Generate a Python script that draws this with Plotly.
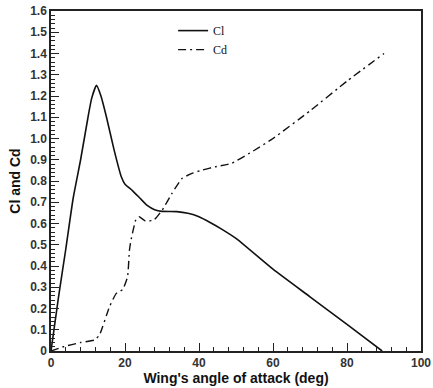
import plotly.graph_objects as go

# Cl (solid)
cl_x = [0, 2, 4, 6, 8, 10, 11, 12.3, 13.5, 15, 17, 19, 20, 22, 24, 26, 28, 30, 34, 37, 40, 43, 46, 50, 60, 70, 80, 89.5]
cl_y = [0, 0.25, 0.48, 0.72, 0.9, 1.1, 1.19, 1.25, 1.2, 1.1, 0.95, 0.82, 0.785, 0.755, 0.72, 0.685, 0.665, 0.657, 0.656, 0.648, 0.632, 0.605, 0.575, 0.53, 0.385, 0.255, 0.125, 0]

# Cd (dash-dot)
cd_x = [0, 3.3, 8, 11.8, 13.1, 15.8, 17.6, 19.4, 20.7, 21.2, 21.6, 22.9, 23.8, 25.5, 27.8, 30.1, 32.7, 35.4, 38.1, 41, 44.4, 48.8, 55.1, 60, 70, 80, 90]
cd_y = [0, 0.02, 0.04, 0.052, 0.075, 0.208, 0.27, 0.29, 0.35, 0.475, 0.52, 0.616, 0.632, 0.612, 0.616, 0.664, 0.742, 0.812, 0.836, 0.852, 0.867, 0.883, 0.946, 1.0, 1.13, 1.27, 1.4]

x_ticks = [0, 20, 40, 60, 80, 100]
y_ticks = [round(i * 0.1, 1) for i in range(17)]

fig = go.Figure()
fig.add_trace(go.Scatter(x=cl_x, y=cl_y, mode="lines", name="Cl",
                         line=dict(color="#111111", width=1.6, shape="spline", smoothing=0.5)))
fig.add_trace(go.Scatter(x=cd_x, y=cd_y, mode="lines", name="Cd",
                         line=dict(color="#111111", width=1.4, dash="8px,4px,2px,4px", shape="spline", smoothing=0.4)))

axis_common = dict(showgrid=False, zeroline=False, showline=True, linecolor="#222222", linewidth=1.5,
                   mirror=True, ticks="inside", tickcolor="#222222", tickwidth=1.2, ticklen=8,
                   ticklabeloverflow="allow", automargin=False,
                   tickfont=dict(family="Liberation Sans", size=12, color="#333333", weight="bold"))

fig.update_xaxes(range=[0, 100], tickvals=x_ticks, ticktext=[str(v) for v in x_ticks],
                 minor=dict(dtick=4, ticks="inside", ticklen=4, tickcolor="#222222", tickwidth=1),
                 title=dict(text="<b>Wing's angle of attack (deg)</b>", font=dict(family="Liberation Sans", size=14, color="#111111"), standoff=2),
                 **axis_common)
fig.update_yaxes(range=[0, 1.6], tickvals=y_ticks, ticktext=[("0" if v == 0 else str(v)) for v in y_ticks],
                 minor=dict(dtick=0.02, ticks="inside", ticklen=4, tickcolor="#222222", tickwidth=1),
                 title=dict(text="<b>Cl and Cd</b>", font=dict(family="Liberation Sans", size=14, color="#111111"), standoff=6),
                 **axis_common)

fig.update_layout(
    width=433, height=388,
    margin=dict(l=51, r=12, t=11, b=37),
    plot_bgcolor="white", paper_bgcolor="white",
    showlegend=True,
    legend=dict(x=0.33, y=0.985, xanchor="left", yanchor="top", bgcolor="rgba(0,0,0,0)",
                font=dict(family="Liberation Serif", size=12, color="#111111"),
                tracegroupgap=0),
)
fig.write_html("out.html")
